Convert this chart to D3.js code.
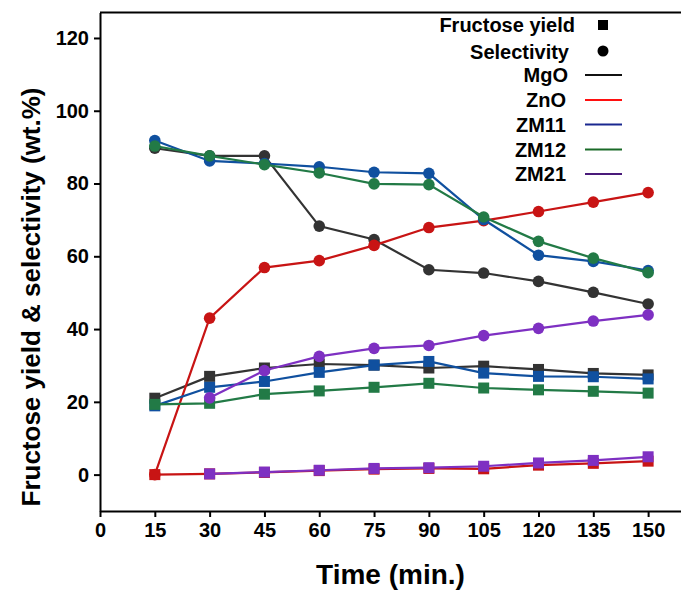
<!DOCTYPE html>
<html>
<head>
<meta charset="utf-8">
<script src="https://cdn.jsdelivr.net/npm/d3@7"></script>
<style>
  body { margin: 0; background: #fff; }
  svg { display: block; font-family: "Liberation Sans", Arial, sans-serif; font-weight: bold; }
</style>
</head>
<body>
<div id="chart"></div>
<script>
var width = 681;
var height = 592;

// time points (min.)
var times = [15, 30, 45, 60, 75, 90, 105, 120, 135, 150];
var xTicks = [0, 15, 30, 45, 60, 75, 90, 105, 120, 135, 150];
var yTicks = [0, 20, 40, 60, 80, 100, 120];

var catalysts = ["MgO", "ZnO", "ZM11", "ZM12", "ZM21"];
var colors = ["#333333", "#c81414", "#10509f", "#227a46", "#7e30c2"];
var legendColors = ["#111111", "#ff1010", "#1a2890", "#1a6a28", "#4a1a7a"];

// fructose yield (wt.%), squares
var yieldMgO  = [21.0, 27.0, 29.3, 30.4, 30.1, 29.3, 29.8, 28.9, 27.8, 27.4];
var yieldZnO  = [0.0, 0.2, 0.6, 1.1, 1.5, 1.7, 1.6, 2.6, 3.1, 3.7];
var yieldZM11 = [18.9, 24.0, 25.6, 28.1, 30.1, 31.1, 27.9, 27.0, 26.9, 26.3];
var yieldZM12 = [19.3, 19.6, 22.1, 23.0, 24.0, 25.1, 23.8, 23.3, 22.9, 22.4];
var yieldZM21 = [null, 0.2, 0.7, 1.2, 1.7, 1.9, 2.3, 3.2, 3.9, 4.9];

// selectivity (wt.%), circles
var selMgO  = [89.7, 87.6, 87.6, 68.3, 64.6, 56.3, 55.4, 53.1, 50.1, 46.9];
var selZnO  = [0.0, 43.0, 56.9, 58.8, 63.0, 67.9, 69.8, 72.3, 74.9, 77.5];
var selZM11 = [91.8, 86.2, 85.5, 84.6, 83.1, 82.8, 70.1, 60.3, 58.6, 56.1];
var selZM12 = [90.3, 87.6, 85.2, 82.9, 79.9, 79.7, 70.8, 64.1, 59.5, 55.5];
var selZM21 = [null, 21.1, 28.6, 32.5, 34.7, 35.5, 38.2, 40.2, 42.2, 43.9];

var yieldSeries = [yieldMgO, yieldZnO, yieldZM11, yieldZM12, yieldZM21];
var selSeries = [selMgO, selZnO, selZM11, selZM12, selZM21];

var margin = { left: 100, top: 12.5, bottom: 81 };

var x = d3.scaleLinear().domain([0, 159]).range([margin.left, width]);
var y = d3.scaleLinear().domain([-10, 127]).range([height - margin.bottom, margin.top]);

var svg = d3.select("#chart")
  .append("svg")
  .attr("width", width)
  .attr("height", height);

// top frame line
svg.append("line")
  .attr("x1", x(0)).attr("x2", width)
  .attr("y1", y(127)).attr("y2", y(127))
  .attr("stroke", "#000").attr("stroke-width", 2);

// axes
var xAxis = svg.append("g")
  .attr("transform", `translate(0,${y(-10)})`)
  .call(d3.axisBottom(x).tickValues(xTicks).tickSize(6).tickPadding(6).tickSizeOuter(0));

var yAxis = svg.append("g")
  .attr("transform", `translate(${x(0)},0)`)
  .call(d3.axisLeft(y).tickValues(yTicks).tickSize(6).tickPadding(5).tickSizeOuter(0));

[xAxis, yAxis].forEach(function(a) {
  a.select(".domain").attr("stroke", "#000").attr("stroke-width", 2);
  a.selectAll(".tick line").attr("stroke", "#000").attr("stroke-width", 2);
  a.selectAll(".tick text")
    .attr("fill", "#000")
    .style("font-size", "20px")
    .style("font-weight", "bold")
    .style("font-family", "'Liberation Sans', Arial, sans-serif");
});

// axis titles
svg.append("text")
  .attr("x", (x(0) + width) / 2)
  .attr("y", 584)
  .attr("text-anchor", "middle")
  .style("font-size", "28px")
  .text("Time (min.)");

svg.append("text")
  .attr("transform", "translate(40,297) rotate(-90)")
  .attr("text-anchor", "middle")
  .style("font-size", "26px")
  .text("Fructose yield & selectivity (wt.%)");

var line = d3.line()
  .defined(d => d != null)
  .x((d, i) => x(times[i]))
  .y(d => y(d));

// one group per catalyst: yield line + squares, selectivity line + circles
catalysts.forEach(function(name, k) {
  var g = svg.append("g").attr("class", "series-" + name);
  var c = colors[k];

  g.append("path")
    .datum(yieldSeries[k])
    .attr("d", line)
    .attr("fill", "none")
    .attr("stroke", c)
    .attr("stroke-width", 2.2);

  g.append("path")
    .datum(selSeries[k])
    .attr("d", line)
    .attr("fill", "none")
    .attr("stroke", c)
    .attr("stroke-width", 2.2);

  var sq = yieldSeries[k].map((v, i) => ({ t: times[i], v: v })).filter(d => d.v != null);
  g.selectAll(".sq")
    .data(sq)
    .enter()
    .append("rect")
    .attr("x", d => x(d.t) - 5.5)
    .attr("y", d => y(d.v) - 5.5)
    .attr("width", 11)
    .attr("height", 11)
    .attr("fill", c);

  var ci = selSeries[k].map((v, i) => ({ t: times[i], v: v })).filter(d => d.v != null);
  g.selectAll(".ci")
    .data(ci)
    .enter()
    .append("circle")
    .attr("cx", d => x(d.t))
    .attr("cy", d => y(d.v))
    .attr("r", 5.8)
    .attr("fill", c);
});

// legend
var legend = svg.append("g").style("font-size", "20px");

legend.append("text").attr("x", 575).attr("y", 32).attr("text-anchor", "end").text("Fructose yield");
legend.append("rect").attr("x", 598).attr("y", 20).attr("width", 10).attr("height", 10).attr("fill", "#000");

legend.append("text").attr("x", 569).attr("y", 59).attr("text-anchor", "end").text("Selectivity");
legend.append("circle").attr("cx", 603).attr("cy", 51).attr("r", 5.5).attr("fill", "#000");

var legendY = [75, 100, 124.5, 149.5, 174];
catalysts.forEach(function(name, k) {
  legend.append("text")
    .attr("x", k === 0 ? 568 : 566)
    .attr("y", legendY[k] + 7)
    .attr("text-anchor", "end")
    .text(name);
  legend.append("line")
    .attr("x1", 585).attr("x2", 622)
    .attr("y1", legendY[k]).attr("y2", legendY[k])
    .attr("stroke", legendColors[k])
    .attr("stroke-width", 2);
});
</script>
</body>
</html>
